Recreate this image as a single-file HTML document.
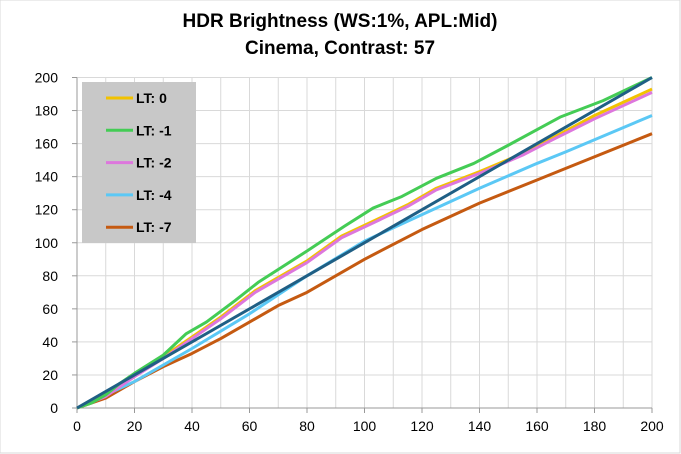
<!DOCTYPE html>
<html><head><meta charset="utf-8"><style>
body{margin:0;background:#fff;}
svg{display:block;font-family:"Liberation Sans",Arial,sans-serif;}
</style></head><body>
<svg id="s" width="681" height="454" viewBox="0 0 681 454" xmlns="http://www.w3.org/2000/svg">
<rect x="0" y="0" width="680" height="453" fill="#fff" stroke="#d9d9d9"/>
<text x="340" y="27" text-anchor="middle" font-size="19" font-weight="bold">HDR Brightness (WS:1%, APL:Mid)</text>
<text x="340" y="54" text-anchor="middle" font-size="19" font-weight="bold">Cinema, Contrast: 57</text>
<g id="grid"></g>
<g id="series"></g>
<rect x="82" y="82" width="114" height="161" fill="#c8c8c8"/>
<g id="leg" font-size="14" font-weight="bold"></g>
</svg>
<script>
var X=function(v){return 77+v*2.875},Y=function(v){return 408-v*1.6525};
var g=document.getElementById('grid'),h='';
for(var i=0;i<=20;i++){var x=X(i*10);h+='<line x1="'+x+'" y1="77.5" x2="'+x+'" y2="408" stroke="#d9d9d9" stroke-width="1"/>';}
for(var j=0;j<=10;j++){var y=Y(j*20);h+='<line x1="77" y1="'+y+'" x2="652" y2="'+y+'" stroke="#d9d9d9" stroke-width="1"/>';
h+='<line x1="72" y1="'+y+'" x2="77" y2="'+y+'" stroke="#999"/>';
h+='<text x="58" y="'+(y+5)+'" text-anchor="end" font-size="14">'+(j*20)+'</text>';}
for(var k=0;k<=10;k++){var x=X(k*20);h+='<line x1="'+x+'" y1="408" x2="'+x+'" y2="413" stroke="#999"/>';
h+='<text x="'+x+'" y="431" text-anchor="middle" font-size="14">'+(k*20)+'</text>';}
h+='<line x1="77" y1="77.5" x2="77" y2="408" stroke="#999"/><line x1="77" y1="408" x2="652" y2="408" stroke="#999"/>';
g.innerHTML=h;
var S=[
['#c55a11',[[0,0],[10,6],[20,16],[30,25],[40,33],[50,42],[60,52],[70,62],[80,70],[100,90],[120,108],[140,124],[160,138],[170,145],[200,166]]],
['#5bc8f5',[[0,0],[20,16],[40,36],[60,57],[80,80],[100,101],[120,117],[140,133],[160,148],[170,155],[200,177]]],
['#f2c200',[[0,0],[10,8],[20,20],[30,31],[40,43],[50,55],[62,71],[80,89],[92,104],[103,113],[115,123],[125,133],[140,143],[155,154],[165,163],[180,177],[200,193]]],
['#dd77dd',[[0,0],[10,7],[20,19],[30,30],[40,42],[50,54],[62,70],[80,88],[92,103],[103,112],[115,122],[125,132],[140,142],[155,153],[165,162],[180,175],[200,191]]],
['#44cc55',[[0,0],[5,3],[10,8],[15,15],[20,21],[30,32],[38,45],[45,52],[55,65],[63,76],[80,95],[93,110],[103,121],[113,128],[125,139],[138,148],[150,159],[168,176],[183,186],[200,200]]],
['#1f5f85',[[0,0],[200,200]]]];
var sh='';S.forEach(function(s){sh+='<polyline fill="none" stroke="'+s[0]+'" stroke-width="3" stroke-linejoin="round" points="'+s[1].map(function(p){return X(p[0])+','+Y(p[1])}).join(' ')+'"/>';});
document.getElementById('series').innerHTML=sh;
var L=[['#f2c200','LT: 0'],['#44cc55','LT: -1'],['#dd77dd','LT: -2'],['#5bc8f5','LT: -4'],['#c55a11','LT: -7']],lh='';
L.forEach(function(l,i){var y=98+i*32.3;lh+='<line x1="106" y1="'+y+'" x2="133" y2="'+y+'" stroke="'+l[0]+'" stroke-width="3"/><text x="136" y="'+(y+5)+'">'+l[1]+'</text>';});
document.getElementById('leg').innerHTML=lh;
</script>
</body></html>
